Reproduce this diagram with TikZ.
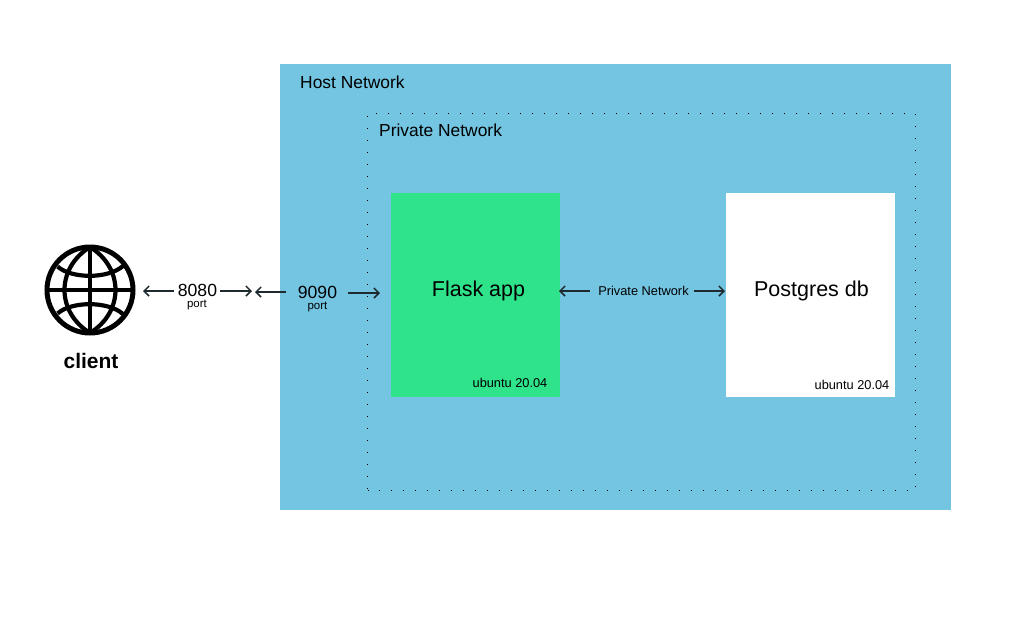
\documentclass[tikz,border=0pt]{standalone}
\usepackage{fontspec}
\setmainfont{Liberation Sans}
\usepackage{xcolor}
\usetikzlibrary{positioning,arrows.meta}
\definecolor{hostblue}{HTML}{73C5E1}
\definecolor{flaskgreen}{HTML}{2EE38A}
\definecolor{arrowgrey}{HTML}{1F2A30}
\tikzset{
    zone/.style={draw=none,inner sep=0pt,outer sep=0pt,anchor=north west},
    lbl/.style={inner sep=0pt,anchor=base,font=\fontsize{#1}{#1}\selectfont},
    link/.style={draw=arrowgrey,line width=1.5pt,-{Straight Barb[length=5pt,width=10pt,line width=1.5pt]}},
    globe/.style={draw=black,line width=4.2pt}
}
\begin{document}
\begin{tikzpicture}[x=1pt,y=-1pt]
    \useasboundingbox (0,0) rectangle (1031,633);
    % host network and the boxes in it
    \node[zone,fill=hostblue,minimum width=671pt,minimum height=446pt] (host) at (280,64) {};
    \node[zone,draw=black,line width=1.4pt,dash pattern=on 1.4pt off 10.6pt,dash phase=0.7pt,minimum width=548pt,minimum height=377pt] (private) at (367.5,113.5) {};
    \node[zone,fill=flaskgreen,minimum width=169pt,minimum height=204pt] (flask) at (391,193) {};
    \node[zone,fill=white,minimum width=169pt,minimum height=204pt] (postgres) at (726,193) {};
    \node[lbl=17.4,anchor=base west] (hostlbl) at (300,88) {Host Network};
    \node[lbl=17.4,anchor=base west] (privatelbl) at (379,136) {Private Network};
    \node[lbl=21.5] (flasklbl) at (478.5,296) {Flask app};
    \node[lbl=21.5] (postgreslbl) at (811.5,296) {Postgres db};
    \node[lbl=12.8] (flaskos) at (510,387) {ubuntu 20.04};
    \node[lbl=12.8] (postgresos) at (852,389) {ubuntu 20.04};
    % globe icon
    \node[globe,line width=5pt,circle,minimum size=86pt,inner sep=0pt,outer sep=0pt] (client) at (90,290) {};
    \draw[globe] (client.north) -- (client.south);
    \draw[globe] (client.west) -- (client.east);
    \draw[globe] (client.north) .. controls (56,268) and (56,312) .. (client.south);
    \draw[globe] (client.north) .. controls (124,268) and (124,312) .. (client.south);
    \draw[globe] (client.north west) ++(-2,7) .. controls (72,279) and (108,279) .. (123,266);
    \draw[globe] (client.south west) ++(-2,-7) .. controls (72,301) and (108,301) .. (123,314);
    \node[lbl=21,font=\fontsize{21}{21}\selectfont\bfseries] (clientlbl) at (91,368) {client};
    % ports
    \node[lbl=17.6] (p8080) at (197.5,296.5) {8080};
    \node[lbl=11.5] (port1) at (197,307.5) {port};
    \node[lbl=17.6] (p9090) at (317.5,298) {9090};
    \node[lbl=11.5] (port2) at (317.5,309) {port};
    \node[lbl=12.8] (privlink) at (643.5,295.5) {Private Network};
    \coordinate (a1) at (143,291);
    \coordinate (a2) at (252,291);
    \coordinate (a3) at (255,292);
    \coordinate (a4) at (380,293);
    \coordinate (a5) at (559,291);
    \coordinate (a6) at (725,291);
    \draw[link] (p8080.west |- a1) ++(-4,0) -- (a1);
    \draw[link] (p8080.east |- a2) ++(3,0) -- (a2);
    \draw[link] (p9090.west |- a3) ++(-12,0) -- (a3);
    \draw[link] (p9090.east |- a4) ++(11,0) -- (a4);
    \draw[link] (privlink.west |- a5) ++(-8,0) -- (a5);
    \draw[link] (privlink.east |- a6) ++(5,0) -- (a6);
\end{tikzpicture}
\end{document}
